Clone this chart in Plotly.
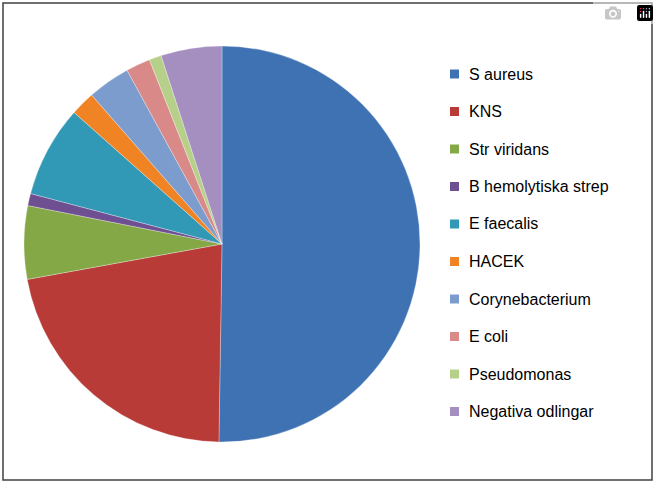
import plotly.graph_objects as go

labels = ["S aureus", "KNS", "Str viridans", "B hemolytiska strep", "E faecalis",
          "HACEK", "Corynebacterium", "E coli", "Pseudomonas", "Negativa odlingar"]
values = [50.5, 22, 6, 1, 7.5, 2, 3.5, 2, 1, 5]
colors = ["#3F72B3", "#B83B38", "#84A846", "#6E4F92", "#3198B5",
          "#F08424", "#7B9CCD", "#D98987", "#B6D08A", "#A48FC0"]

W, H = 659, 487
fig = go.Figure(go.Pie(labels=labels, values=values, sort=False, direction="clockwise",
                       rotation=0, textinfo="none", hoverinfo="label+percent",
                       marker=dict(colors=colors, line=dict(color="white", width=0.3)),
                       domain=dict(x=[24/W, 420/W], y=[45/H, 441/H])))

shapes = [dict(type="rect", xref="paper", yref="paper", x0=3/W, x1=652/W, y0=7/H, y1=1-3/H,
               line=dict(color="#404040", width=1.5))]
annotations = []
for i, (lab, col) in enumerate(zip(labels, colors)):
    yc = 74 + i * 37.5
    shapes.append(dict(type="rect", xref="paper", yref="paper",
                       x0=450/W, x1=459/W, y0=1-(yc+4.5)/H, y1=1-(yc-4.5)/H,
                       fillcolor=col, line=dict(width=0)))
    annotations.append(dict(x=467/W, y=1-yc/H, xref="paper", yref="paper", text=lab,
                            showarrow=False, xanchor="left", yanchor="middle",
                            font=dict(size=16, color="#000000", family="Liberation Sans")))

fig.update_layout(width=W, height=H, margin=dict(l=0, r=0, t=0, b=0),
                  paper_bgcolor="white", showlegend=False,
                  shapes=shapes, annotations=annotations)
fig.write_html("out.html", post_script="document.body.style.margin='0';document.body.style.overflow='hidden';")
